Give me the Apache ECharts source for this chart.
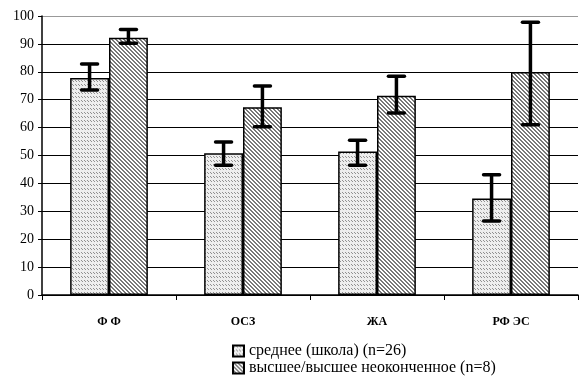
<!DOCTYPE html>
<html>
<head>
<meta charset="utf-8">
<script src="https://cdn.jsdelivr.net/npm/echarts@6/dist/echarts.min.js"></script>
<style>
  html, body { margin: 0; padding: 0; background: #fff; }
  #chart { width: 579px; height: 381px; }
</style>
</head>
<body>
<div id="chart"></div>
<script>
// Categories and tick labels
const categories = ['Ф Ф', 'ОСЗ', 'ЖА', 'РФ ЭС'];
const yTicks = [0, 10, 20, 30, 40, 50, 60, 70, 80, 90, 100];

// Group 1: среднее (школа)
const schoolName = 'среднее (школа) (n=26)';
const schoolMean = [77.8, 50.8, 51.4, 34.6];
const schoolLow  = [73.5, 46.5, 46.5, 26.5];
const schoolHigh = [82.8, 54.8, 55.5, 43.1];

// Group 2: высшее/высшее неоконченное
const higherName = 'высшее/высшее неоконченное (n=8)';
const higherMean = [92.2, 67.3, 71.4, 79.9];
const higherLow  = [90.2, 60.3, 65.2, 61.0];
const higherHigh = [95.2, 74.9, 78.4, 97.8];

// Pixel tiles used as bar fills
function makeTile(w, h, painter) {
  const c = document.createElement('canvas');
  c.width = w; c.height = h;
  const ctx = c.getContext('2d');
  const img = ctx.createImageData(w, h);
  for (let y = 0; y < h; y++) {
    for (let x = 0; x < w; x++) {
      const v = painter(x, y);
      const i = (y * w + x) * 4;
      img.data[i] = v; img.data[i + 1] = v; img.data[i + 2] = v; img.data[i + 3] = 255;
    }
  }
  ctx.putImageData(img, 0, 0);
  return c;
}
// fine dotted dashes in rows
const dotTile = makeTile(3, 4, (x, y) => {
  if (y === 0 && x === 0) return 145;
  if (y === 1 && x === 1) return 145;
  return 238;
});
// diagonal hatch
const hatchTile = makeTile(4, 4, (x, y) => {
  return (x === y || x === (y + 1) % 4) ? 120 : 255;
});

const catGap = 0.42;

function errorSeries(name, idx, low, high) {
  const data = categories.map((c, i) => [i, low[i], high[i]]);
  return {
    type: 'custom',
    name: name + '_err',
    z: 5,
    silent: true,
    data: data,
    encode: { x: 0, y: [1, 2] },
    renderItem: function (params, api) {
      const ci = api.value(0);
      const band = api.size([1, 0])[0];
      const barW = band * (1 - catGap) / 2;
      const off = (idx === 0 ? -0.5 : 0.5) * barW;
      const pLo = api.coord([ci, api.value(1)]);
      const pHi = api.coord([ci, api.value(2)]);
      const x = pLo[0] + off;
      const cap = 8;
      const st = { stroke: '#000', lineWidth: 3.5 };
      return {
        type: 'group',
        children: [
          { type: 'line', shape: { x1: x, y1: pHi[1], x2: x, y2: pLo[1] }, style: st },
          { type: 'line', shape: { x1: x - cap, y1: pHi[1], x2: x + cap, y2: pHi[1] }, style: Object.assign({ lineCap: 'round' }, st) },
          { type: 'line', shape: { x1: x - cap, y1: pLo[1], x2: x + cap, y2: pLo[1] }, style: Object.assign({ lineCap: 'round' }, st) }
        ]
      };
    }
  };
}

const gridColors = yTicks.map(v => v === 100 ? '#999' : '#000');

function legendRow(name, top) {
  return {
    data: [name],
    left: 232,
    top: top,
    padding: 0,
    itemWidth: 11,
    itemHeight: 11,
    icon: 'rect',
    textStyle: { fontFamily: '"Liberation Serif", serif', fontSize: 16, color: '#000', padding: [0, 0, 0, 0] }
  };
}

const chart = echarts.init(document.getElementById('chart'), null, { renderer: 'canvas' });
chart.setOption({
  animation: false,
  backgroundColor: '#fff',
  textStyle: { fontFamily: '"Liberation Serif", "Times New Roman", serif' },
  grid: { left: 42, right: 1, top: 16, bottom: 86, containLabel: false },
  legend: [legendRow(schoolName, 343), legendRow(higherName, 360)],
  xAxis: {
    type: 'category',
    data: categories,
    axisLine: { lineStyle: { color: '#000', width: 1.5 } },
    axisTick: { show: true, length: 5, lineStyle: { color: '#000' } },
    axisLabel: { fontWeight: 'bold', fontSize: 12, color: '#000', margin: 21, fontFamily: '"Liberation Serif", serif' },
    splitLine: { show: false }
  },
  yAxis: {
    type: 'value',
    min: 0, max: 100, interval: 10,
    axisLine: { show: true, lineStyle: { color: '#000', width: 1.5 } },
    axisTick: { show: true, length: 4, lineStyle: { color: '#000' } },
    axisLabel: { fontSize: 14, color: '#000', margin: 8, fontFamily: '"Liberation Serif", serif' },
    splitLine: { show: true, lineStyle: { color: gridColors, width: 1 } }
  },
  series: [
    {
      name: schoolName,
      type: 'bar',
      data: schoolMean,
      barGap: '0%',
      barCategoryGap: (catGap * 100) + '%',
      itemStyle: { color: { image: dotTile, repeat: 'repeat' }, borderColor: '#000', borderWidth: 1.5 }
    },
    {
      name: higherName,
      type: 'bar',
      data: higherMean,
      barGap: '0%',
      barCategoryGap: (catGap * 100) + '%',
      itemStyle: { color: { image: hatchTile, repeat: 'repeat' }, borderColor: '#000', borderWidth: 1.5 }
    },
    errorSeries(schoolName, 0, schoolLow, schoolHigh),
    errorSeries(higherName, 1, higherLow, higherHigh)
  ]
});
</script>
</body>
</html>
